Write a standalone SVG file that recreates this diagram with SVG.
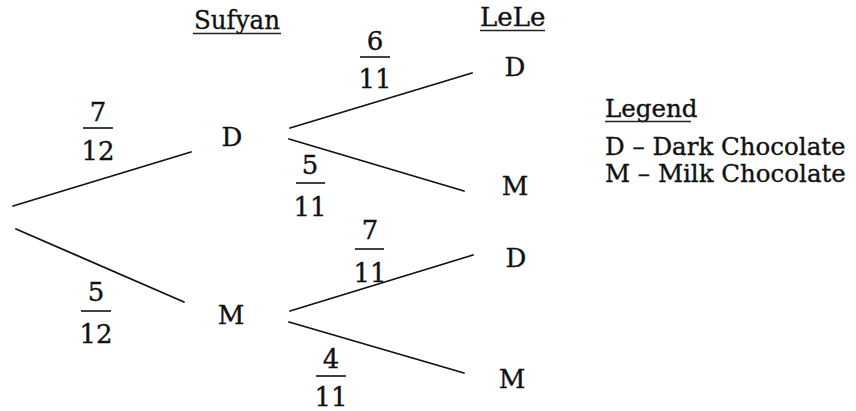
<svg xmlns="http://www.w3.org/2000/svg" width="856" height="411" viewBox="0 0 856 411">
  <style>
    text { font-family: "DejaVu Serif", "Liberation Serif", serif; font-size: 26px; fill: #111; stroke: #111; stroke-width: 0.35; }
    .c { text-anchor: middle; }
    .key { font-size: 24.5px; }
    .edge { stroke: #111; stroke-width: 1.8; stroke-linecap: round; fill: none; }
    .bar { stroke: #111; stroke-width: 1.6; }
    .ul { stroke: #222; stroke-width: 1.4; }
  </style>
  <rect width="856" height="411" fill="#fff"/>

  <!-- column headings -->
  <g id="heading-sufyan">
    <text x="194" y="29" textLength="86" lengthAdjust="spacingAndGlyphs">Sufyan</text>
    <line class="ul" x1="193" y1="33.5" x2="281" y2="33.5"/>
  </g>
  <g id="heading-lele">
    <text x="480" y="26">LeLe</text>
    <line class="ul" x1="480" y1="30.5" x2="545" y2="30.5"/>
  </g>

  <!-- branches -->
  <g id="connectors">
    <line class="edge" x1="13" y1="206" x2="191" y2="152"/>
    <line class="edge" x1="16" y1="229" x2="184" y2="302"/>
    <line class="edge" x1="290" y1="128" x2="472" y2="73"/>
    <line class="edge" x1="289" y1="139" x2="464" y2="191"/>
    <line class="edge" x1="290" y1="311" x2="473" y2="255"/>
    <line class="edge" x1="289" y1="322" x2="464" y2="373"/>
  </g>

  <!-- outcome nodes -->
  <g id="sufyan-d"><text class="c" x="232" y="146">D</text></g>
  <g id="sufyan-m"><text class="c" x="231" y="324">M</text></g>
  <g id="lele-d1"><text class="c" x="515" y="76">D</text></g>
  <g id="lele-m1"><text class="c" x="515" y="195">M</text></g>
  <g id="lele-d2"><text class="c" x="516" y="267">D</text></g>
  <g id="lele-m2"><text class="c" x="512" y="388">M</text></g>

  <!-- branch probabilities -->
  <g id="p-7-12">
    <text class="c" x="98" y="121">7</text>
    <line class="bar" x1="83" y1="128" x2="113" y2="128"/>
    <text class="c" x="98" y="160">12</text>
  </g>
  <g id="p-5-12">
    <text class="c" x="96" y="301">5</text>
    <line class="bar" x1="81" y1="311" x2="111" y2="311"/>
    <text class="c" x="96" y="343">12</text>
  </g>
  <g id="p-6-11">
    <text class="c" x="375" y="50">6</text>
    <line class="bar" x1="360" y1="57" x2="390" y2="57"/>
    <text class="c" x="375" y="88">11</text>
  </g>
  <g id="p-5-11">
    <text class="c" x="310" y="174">5</text>
    <line class="bar" x1="296" y1="183" x2="325" y2="183"/>
    <text class="c" x="310" y="216">11</text>
  </g>
  <g id="p-7-11">
    <text class="c" x="370" y="239">7</text>
    <line class="bar" x1="355" y1="249" x2="384" y2="249"/>
    <text class="c" x="370" y="282">11</text>
  </g>
  <g id="p-4-11">
    <text class="c" x="331" y="368">4</text>
    <line class="bar" x1="316" y1="376" x2="346" y2="376"/>
    <text class="c" x="331" y="406">11</text>
  </g>

  <!-- key -->
  <g id="legend">
    <text class="key" x="605" y="117">Legend</text>
    <line class="ul" x1="605" y1="121.5" x2="691" y2="121.5"/>
    <text class="key" x="605" y="155">D – Dark Chocolate</text>
    <text class="key" x="605" y="182">M – Milk Chocolate</text>
  </g>
</svg>
